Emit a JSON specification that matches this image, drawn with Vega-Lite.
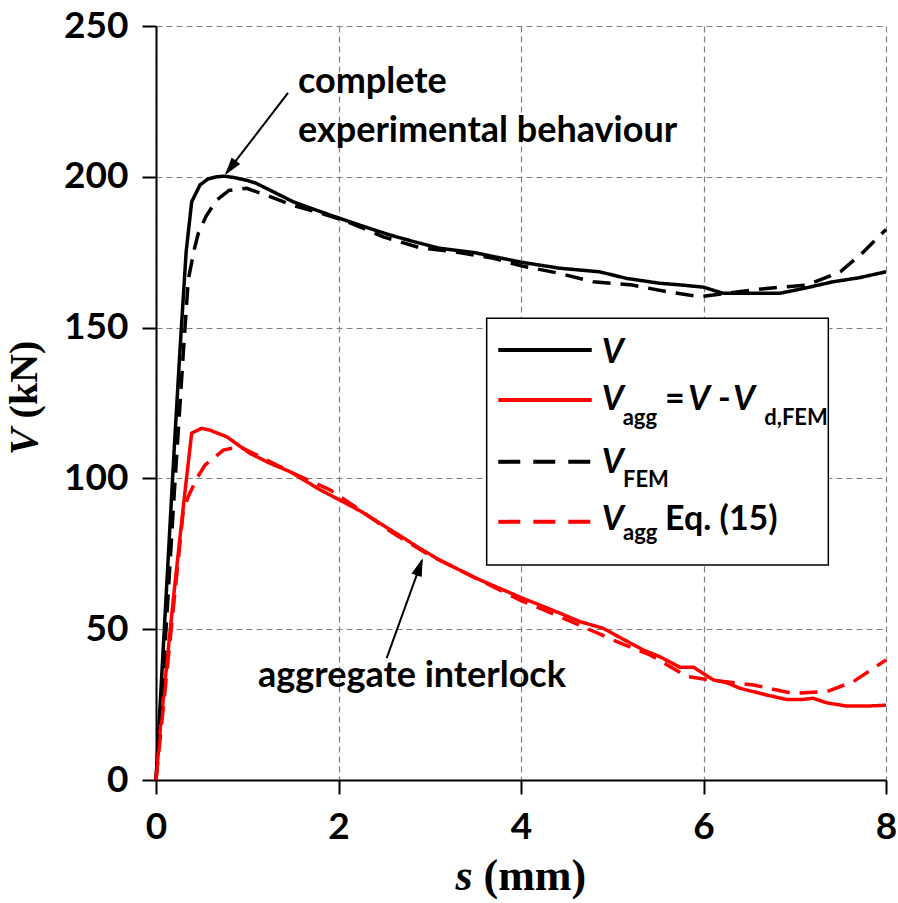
{
  "$schema": "https://vega.github.io/schema/vega-lite/v6.json",
  "width": 730,
  "height": 754,
  "autosize": {"type": "none"},
  "padding": {"left": 156, "top": 26, "right": 12, "bottom": 123},
  "background": "white",
  "config": {
    "view": {"stroke": null},
    "axis": {
      "domainColor": "black", "domainWidth": 2,
      "tickColor": "black", "tickWidth": 2, "tickSize": 14,
      "labelFont": "Lato", "labelFontWeight": "bold", "labelFontSize": 37, "labelColor": "black",
      "gridColor": "#808080", "gridDash": [6, 4], "gridWidth": 1.2
    }
  },
  "datasets": {
    "curves": [
      {"series":"V","s":0,"V":0},{"series":"V","s":0.1,"V":55},{"series":"V","s":0.2,"V":110},{"series":"V","s":0.263,"V":142.6},{"series":"V","s":0.33,"V":175},{"series":"V","s":0.391,"V":191.7},{"series":"V","s":0.482,"V":197.3},{"series":"V","s":0.57,"V":199.3},{"series":"V","s":0.665,"V":200},{"series":"V","s":0.75,"V":200.2},{"series":"V","s":0.847,"V":199.8},{"series":"V","s":1.0,"V":198.8},{"series":"V","s":1.1,"V":197.8},{"series":"V","s":1.3,"V":194.8},{"series":"V","s":1.505,"V":191.7},{"series":"V","s":1.75,"V":189},{"series":"V","s":2.016,"V":186.2},{"series":"V","s":2.3,"V":183.3},{"series":"V","s":2.564,"V":180.7},{"series":"V","s":2.85,"V":178.3},{"series":"V","s":3.11,"V":176.3},{"series":"V","s":3.5,"V":174.8},{"series":"V","s":4.0,"V":171.7},{"series":"V","s":4.42,"V":169.7},{"series":"V","s":4.86,"V":168.5},{"series":"V","s":5.16,"V":166.3},{"series":"V","s":5.52,"V":164.7},{"series":"V","s":5.8,"V":164},{"series":"V","s":6.0,"V":163.4},{"series":"V","s":6.21,"V":161.4},{"series":"V","s":6.5,"V":161.4},{"series":"V","s":6.84,"V":161.4},{"series":"V","s":7.1,"V":163},{"series":"V","s":7.42,"V":165.2},{"series":"V","s":7.7,"V":166.5},{"series":"V","s":8.0,"V":168.5},
      {"series":"Vagg","s":0,"V":0},{"series":"Vagg","s":0.05,"V":18},{"series":"Vagg","s":0.1,"V":33},{"series":"Vagg","s":0.19,"V":60},{"series":"Vagg","s":0.299,"V":90.6},{"series":"Vagg","s":0.391,"V":115},{"series":"Vagg","s":0.5,"V":116.6},{"series":"Vagg","s":0.59,"V":116},{"series":"Vagg","s":0.775,"V":113.8},{"series":"Vagg","s":1.03,"V":108.3},{"series":"Vagg","s":1.25,"V":105},{"series":"Vagg","s":1.47,"V":102.2},{"series":"Vagg","s":1.8,"V":96.2},{"series":"Vagg","s":2.016,"V":92.8},{"series":"Vagg","s":2.25,"V":89},{"series":"Vagg","s":2.455,"V":85.1},{"series":"Vagg","s":2.7,"V":80.5},{"series":"Vagg","s":2.89,"V":76.8},{"series":"Vagg","s":3.11,"V":72.9},{"series":"Vagg","s":3.5,"V":67},{"series":"Vagg","s":4.0,"V":60.5},{"series":"Vagg","s":4.427,"V":55.3},{"series":"Vagg","s":4.647,"V":52.5},{"series":"Vagg","s":4.9,"V":50.3},{"series":"Vagg","s":5.1,"V":47},{"series":"Vagg","s":5.34,"V":43.1},{"series":"Vagg","s":5.52,"V":40.9},{"series":"Vagg","s":5.74,"V":37.4},{"series":"Vagg","s":5.89,"V":37.4},{"series":"Vagg","s":6.107,"V":33.2},{"series":"Vagg","s":6.25,"V":32.3},{"series":"Vagg","s":6.4,"V":30.4},{"series":"Vagg","s":6.69,"V":28.2},{"series":"Vagg","s":6.91,"V":26.7},{"series":"Vagg","s":7.09,"V":26.7},{"series":"Vagg","s":7.2,"V":27.1},{"series":"Vagg","s":7.35,"V":25.6},{"series":"Vagg","s":7.57,"V":24.5},{"series":"Vagg","s":7.79,"V":24.5},{"series":"Vagg","s":8.0,"V":24.8},
      {"series":"VFEM","s":0,"V":0},{"series":"VFEM","s":0.1,"V":45},{"series":"VFEM","s":0.2,"V":95},{"series":"VFEM","s":0.3,"V":142},{"series":"VFEM","s":0.354,"V":166},{"series":"VFEM","s":0.42,"V":176},{"series":"VFEM","s":0.464,"V":181.3},{"series":"VFEM","s":0.55,"V":187},{"series":"VFEM","s":0.665,"V":192.3},{"series":"VFEM","s":0.8,"V":195.5},{"series":"VFEM","s":0.994,"V":196.2},{"series":"VFEM","s":1.2,"V":194},{"series":"VFEM","s":1.505,"V":190.5},{"series":"VFEM","s":1.8,"V":188},{"series":"VFEM","s":2.09,"V":185.2},{"series":"VFEM","s":2.49,"V":180.1},{"series":"VFEM","s":2.89,"V":176.5},{"series":"VFEM","s":3.3,"V":175},{"series":"VFEM","s":3.7,"V":173},{"series":"VFEM","s":4.0,"V":170.5},{"series":"VFEM","s":4.42,"V":168},{"series":"VFEM","s":4.79,"V":165.2},{"series":"VFEM","s":5.22,"V":164.1},{"series":"VFEM","s":5.6,"V":161.9},{"series":"VFEM","s":5.96,"V":160.2},{"series":"VFEM","s":6.25,"V":161.4},{"series":"VFEM","s":6.69,"V":163},{"series":"VFEM","s":7.13,"V":164.1},{"series":"VFEM","s":7.5,"V":168.5},{"series":"VFEM","s":7.75,"V":175},{"series":"VFEM","s":8.0,"V":182.5},
      {"series":"VaggEq","s":0,"V":0},{"series":"VaggEq","s":0.1,"V":30},{"series":"VaggEq","s":0.2,"V":60},{"series":"VaggEq","s":0.3,"V":89.5},{"series":"VaggEq","s":0.354,"V":94},{"series":"VaggEq","s":0.446,"V":100},{"series":"VaggEq","s":0.537,"V":104.4},{"series":"VaggEq","s":0.738,"V":109.4},{"series":"VaggEq","s":0.92,"V":110.5},{"series":"VaggEq","s":1.1,"V":107.8},{"series":"VaggEq","s":1.505,"V":101.7},{"series":"VaggEq","s":1.907,"V":96.2},{"series":"VaggEq","s":2.236,"V":89.5},{"series":"VaggEq","s":2.6,"V":81.8},{"series":"VaggEq","s":3.0,"V":74.5},{"series":"VaggEq","s":3.5,"V":67},{"series":"VaggEq","s":4.0,"V":59.5},{"series":"VaggEq","s":4.4,"V":54.5},{"series":"VaggEq","s":4.68,"V":50.8},{"series":"VaggEq","s":5.05,"V":45.9},{"series":"VaggEq","s":5.42,"V":41.4},{"series":"VaggEq","s":5.82,"V":34.3},{"series":"VaggEq","s":6.07,"V":33.2},{"series":"VaggEq","s":6.55,"V":31.5},{"series":"VaggEq","s":6.98,"V":28.7},{"series":"VaggEq","s":7.35,"V":29.3},{"series":"VaggEq","s":7.64,"V":32.6},{"series":"VaggEq","s":8.0,"V":39.8}
    ]
  },
  "layer": [
    {
      "data": {"name": "curves"},
      "mark": {"type": "line", "strokeWidth": 3.5},
      "encoding": {
        "x": {"field": "s", "type": "quantitative", "scale": {"domain": [0, 8], "nice": false, "zero": false},
              "axis": {"values": [0, 2, 4, 6, 8], "format": "d", "labelPadding": 15, "labelFlush": false, "title": null}},
        "y": {"field": "V", "type": "quantitative", "scale": {"domain": [0, 250], "nice": false},
              "axis": {"values": [0, 50, 100, 150, 200, 250], "format": "d", "labelPadding": 14, "title": null}},
        "color": {"field": "series", "type": "nominal",
                  "scale": {"domain": ["V", "Vagg", "VFEM", "VaggEq"], "range": ["#000000", "#ff0000", "#000000", "#ff0000"]}, "legend": null},
        "strokeDash": {"field": "series", "type": "nominal",
                  "scale": {"domain": ["V", "Vagg", "VFEM", "VaggEq"], "range": [[1, 0], [1, 0], [18, 10], [18, 10]]}, "legend": null}
      }
    },
    {
      "data": {"values": [{"s": 3.624, "s2": 7.368, "V": 153.1, "V2": 71.3}]},
      "mark": {"type": "rect", "fill": "white", "stroke": "black", "strokeWidth": 1.5},
      "encoding": {
        "x": {"field": "s", "type": "quantitative"}, "x2": {"field": "s2"},
        "y": {"field": "V", "type": "quantitative"}, "y2": {"field": "V2"}
      }
    },
    {
      "data": {"values": [{"series": "V", "s": 3.751, "s2": 4.775, "V": 142.6}, {"series": "Vagg", "s": 3.751, "s2": 4.775, "V": 126.0}]},
      "mark": {"type": "rule", "strokeWidth": 4},
      "encoding": {
        "x": {"field": "s", "type": "quantitative"}, "x2": {"field": "s2"},
        "y": {"field": "V", "type": "quantitative"},
        "color": {"field": "series", "type": "nominal", "legend": null}
      }
    },
    {
      "data": {"values": [{"series": "VFEM", "s": 3.751, "s2": 4.775, "V": 105.5}, {"series": "VaggEq", "s": 3.751, "s2": 4.775, "V": 85.6}]},
      "mark": {"type": "rule", "strokeWidth": 4, "strokeDash": [22, 13]},
      "encoding": {
        "x": {"field": "s", "type": "quantitative"}, "x2": {"field": "s2"},
        "y": {"field": "V", "type": "quantitative"},
        "color": {"field": "series", "type": "nominal", "legend": null}
      }
    },
    {
      "data": {"values": [
        {"t": "V", "s": 4.884, "V": 138.2},
        {"t": "V", "s": 4.884, "V": 122.7},
        {"t": "V", "s": 5.83, "V": 122.7},
        {"t": "V", "s": 6.323, "V": 122.7},
        {"t": "V", "s": 4.884, "V": 101.7},
        {"t": "V", "s": 4.884, "V": 82.9}
      ]},
      "mark": {"type": "text", "font": "Lato", "fontWeight": "bold", "fontStyle": "italic", "fontSize": 34, "align": "left", "baseline": "alphabetic", "color": "black"},
      "encoding": {"x": {"field": "s", "type": "quantitative"}, "y": {"field": "V", "type": "quantitative"}, "text": {"field": "t"}}
    },
    {
      "data": {"values": [
        {"t": "=", "s": 5.578, "V": 122.7},
        {"t": "-", "s": 6.159, "V": 122.7},
        {"t": "Eq. (15)", "s": 5.578, "V": 82.9}
      ]},
      "mark": {"type": "text", "font": "Lato", "fontWeight": "bold", "fontSize": 34, "align": "left", "baseline": "alphabetic", "color": "black"},
      "encoding": {"x": {"field": "s", "type": "quantitative"}, "y": {"field": "V", "type": "quantitative"}, "text": {"field": "t"}}
    },
    {
      "data": {"values": [
        {"t": "agg", "s": 5.114, "V": 117.7},
        {"t": "d,FEM", "s": 6.666, "V": 117.7},
        {"t": "FEM", "s": 5.118, "V": 97.2},
        {"t": "agg", "s": 5.118, "V": 79.6}
      ]},
      "mark": {"type": "text", "font": "Lato", "fontWeight": "bold", "fontSize": 22, "align": "left", "baseline": "alphabetic", "color": "black"},
      "encoding": {"x": {"field": "s", "type": "quantitative"}, "y": {"field": "V", "type": "quantitative"}, "text": {"field": "t"}}
    },
    {
      "data": {"values": [
        {"t": "complete", "s": 1.556, "V": 227.9},
        {"t": "experimental behaviour", "s": 1.556, "V": 211.6},
        {"t": "aggregate interlock", "s": 1.118, "V": 30.9}
      ]},
      "mark": {"type": "text", "font": "Lato", "fontWeight": "bold", "fontSize": 36, "align": "left", "baseline": "alphabetic", "color": "black"},
      "encoding": {"x": {"field": "s", "type": "quantitative"}, "y": {"field": "V", "type": "quantitative"}, "text": {"field": "t"}}
    },
    {
      "data": {"values": [{"t": "s", "s": 3.282, "V": -36.5}]},
      "mark": {"type": "text", "font": "Liberation Serif", "fontWeight": "bold", "fontStyle": "italic", "fontSize": 44, "align": "left", "baseline": "alphabetic", "color": "black"},
      "encoding": {"x": {"field": "s", "type": "quantitative"}, "y": {"field": "V", "type": "quantitative"}, "text": {"field": "t"}}
    },
    {
      "data": {"values": [{"t": "(mm)", "s": 3.589, "V": -36.5}]},
      "mark": {"type": "text", "font": "Liberation Serif", "fontWeight": "bold", "fontSize": 44, "align": "left", "baseline": "alphabetic", "color": "black"},
      "encoding": {"x": {"field": "s", "type": "quantitative"}, "y": {"field": "V", "type": "quantitative"}, "text": {"field": "t"}}
    },
    {
      "data": {"values": [{"t": "V", "s": -1.304, "V": 107.8}]},
      "mark": {"type": "text", "font": "Liberation Serif", "fontWeight": "bold", "fontStyle": "italic", "fontSize": 40, "align": "left", "baseline": "alphabetic", "angle": 270, "color": "black"},
      "encoding": {"x": {"field": "s", "type": "quantitative"}, "y": {"field": "V", "type": "quantitative"}, "text": {"field": "t"}}
    },
    {
      "data": {"values": [{"t": "(kN)", "s": -1.304, "V": 119.9}]},
      "mark": {"type": "text", "font": "Liberation Serif", "fontWeight": "bold", "fontSize": 40, "align": "left", "baseline": "alphabetic", "angle": 270, "color": "black"},
      "encoding": {"x": {"field": "s", "type": "quantitative"}, "y": {"field": "V", "type": "quantitative"}, "text": {"field": "t"}}
    },
    {
      "data": {"values": [
        {"s": 1.447, "V": 227.8, "s2": 0.77, "V2": 201.2},
        {"s": 2.528, "V": 40.4, "s2": 2.915, "V2": 72.8}
      ]},
      "mark": {"type": "rule", "strokeWidth": 2, "color": "black"},
      "encoding": {
        "x": {"field": "s", "type": "quantitative"}, "x2": {"field": "s2"},
        "y": {"field": "V", "type": "quantitative"}, "y2": {"field": "V2"}
      }
    },
    {
      "data": {"values": [{"s": 0.756, "V": 200.6}]},
      "mark": {"type": "point", "shape": "M0,0L0.3,1L-0.3,1Z", "size": 1296, "angle": 217.5, "filled": true, "color": "black", "opacity": 1, "strokeWidth": 0},
      "encoding": {"x": {"field": "s", "type": "quantitative"}, "y": {"field": "V", "type": "quantitative"}}
    },
    {
      "data": {"values": [{"s": 2.923, "V": 73.5}]},
      "mark": {"type": "point", "shape": "M0,0L0.3,1L-0.3,1Z", "size": 1296, "angle": 19.8, "filled": true, "color": "black", "opacity": 1, "strokeWidth": 0},
      "encoding": {"x": {"field": "s", "type": "quantitative"}, "y": {"field": "V", "type": "quantitative"}}
    }
  ]
}
